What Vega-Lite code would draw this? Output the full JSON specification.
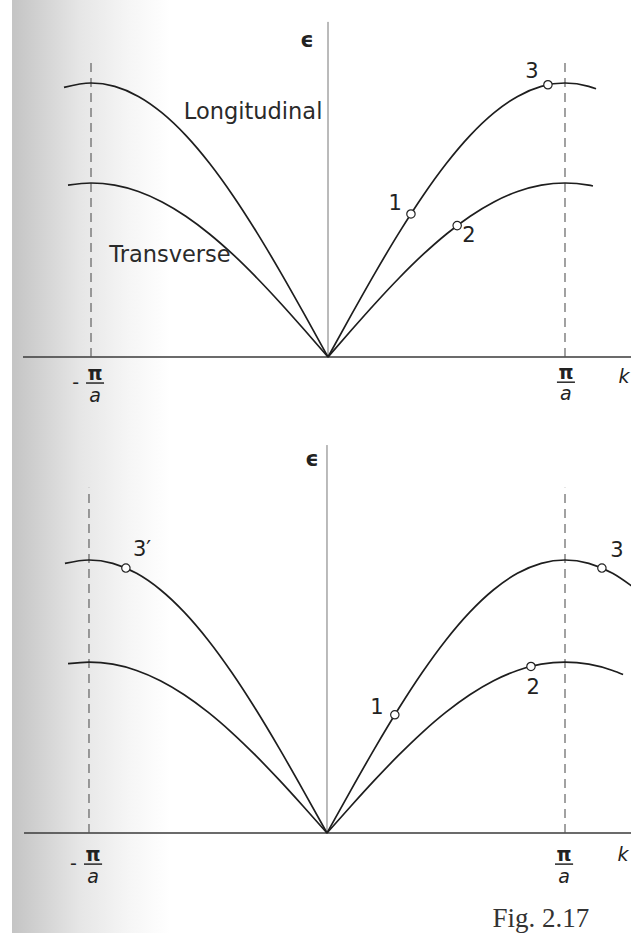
{
  "$schema": "https://vega.github.io/schema/vega-lite/v6.json",
  "padding": 0,
  "background": "white",
  "spacing": 0,
  "bounds": "flush",
  "config": {"view": {"stroke": null}, "concat": {"spacing": 0}},
  "datasets": {
    "shade": [
      {"panel": "top", "k": -1.3333, "k2": -0.6667, "e": -0.2299, "e2": 1.3029},
      {"panel": "bottom", "k": -1.3235, "k2": -0.6597, "e": -0.3663, "e2": 1.5128}
    ],
    "rules": [
      {"panel": "top", "kind": "haxis", "k": -1.287, "k2": 1.2785, "e": 0, "e2": 0},
      {"panel": "top", "kind": "vaxis", "k": 0, "k2": 0, "e": 0, "e2": 1.223},
      {"panel": "top", "kind": "dash", "k": -1, "k2": -1, "e": 0, "e2": 1.077},
      {"panel": "top", "kind": "dash", "k": 1, "k2": 1, "e": 0, "e2": 1.077},
      {"panel": "top", "kind": "bar", "k": -1.021, "k2": -0.945, "e": -0.095, "e2": -0.095},
      {"panel": "top", "kind": "bar", "k": 0.966, "k2": 1.042, "e": -0.092, "e2": -0.092},
      {"panel": "bottom", "kind": "haxis", "k": -1.273, "k2": 1.2773, "e": 0, "e2": 0},
      {"panel": "bottom", "kind": "vaxis", "k": 0, "k2": 0, "e": 0, "e2": 1.421},
      {"panel": "bottom", "kind": "dash", "k": -1, "k2": -1, "e": 0, "e2": 1.265},
      {"panel": "bottom", "kind": "dash", "k": 1, "k2": 1, "e": 0, "e2": 1.265},
      {"panel": "bottom", "kind": "bar", "k": -1.021, "k2": -0.945, "e": -0.114, "e2": -0.114},
      {"panel": "bottom", "kind": "bar", "k": 0.958, "k2": 1.034, "e": -0.114, "e2": -0.114}
    ],
    "curves": [
      {"panel": "top", "series": "L1", "k": -1.114, "e": 0.984},
      {"panel": "top", "series": "L1", "k": -1.0, "e": 1.0},
      {"panel": "top", "series": "L1", "k": -0.9, "e": 0.9877},
      {"panel": "top", "series": "L1", "k": -0.8, "e": 0.9511},
      {"panel": "top", "series": "L1", "k": -0.7, "e": 0.891},
      {"panel": "top", "series": "L1", "k": -0.6, "e": 0.809},
      {"panel": "top", "series": "L1", "k": -0.5, "e": 0.7071},
      {"panel": "top", "series": "L1", "k": -0.4, "e": 0.5878},
      {"panel": "top", "series": "L1", "k": -0.3, "e": 0.454},
      {"panel": "top", "series": "L1", "k": -0.2, "e": 0.309},
      {"panel": "top", "series": "L1", "k": -0.1, "e": 0.1564},
      {"panel": "top", "series": "L1", "k": 0, "e": 0},
      {"panel": "top", "series": "L2", "k": 0, "e": 0},
      {"panel": "top", "series": "L2", "k": 0.1, "e": 0.1564},
      {"panel": "top", "series": "L2", "k": 0.2, "e": 0.309},
      {"panel": "top", "series": "L2", "k": 0.3, "e": 0.454},
      {"panel": "top", "series": "L2", "k": 0.4, "e": 0.5878},
      {"panel": "top", "series": "L2", "k": 0.5, "e": 0.7071},
      {"panel": "top", "series": "L2", "k": 0.6, "e": 0.809},
      {"panel": "top", "series": "L2", "k": 0.7, "e": 0.891},
      {"panel": "top", "series": "L2", "k": 0.8, "e": 0.9511},
      {"panel": "top", "series": "L2", "k": 0.9, "e": 0.9877},
      {"panel": "top", "series": "L2", "k": 1.0, "e": 1.0},
      {"panel": "top", "series": "L2", "k": 1.1, "e": 0.9877},
      {"panel": "top", "series": "L2", "k": 1.131, "e": 0.9789},
      {"panel": "top", "series": "T1", "k": -1.097, "e": 0.6276},
      {"panel": "top", "series": "T1", "k": -1.0, "e": 0.635},
      {"panel": "top", "series": "T1", "k": -0.9, "e": 0.6272},
      {"panel": "top", "series": "T1", "k": -0.8, "e": 0.6039},
      {"panel": "top", "series": "T1", "k": -0.7, "e": 0.5658},
      {"panel": "top", "series": "T1", "k": -0.6, "e": 0.5137},
      {"panel": "top", "series": "T1", "k": -0.5, "e": 0.449},
      {"panel": "top", "series": "T1", "k": -0.4, "e": 0.3733},
      {"panel": "top", "series": "T1", "k": -0.3, "e": 0.2883},
      {"panel": "top", "series": "T1", "k": -0.2, "e": 0.1962},
      {"panel": "top", "series": "T1", "k": -0.1, "e": 0.0993},
      {"panel": "top", "series": "T1", "k": 0, "e": 0},
      {"panel": "top", "series": "T2", "k": 0, "e": 0},
      {"panel": "top", "series": "T2", "k": 0.1, "e": 0.0993},
      {"panel": "top", "series": "T2", "k": 0.2, "e": 0.1962},
      {"panel": "top", "series": "T2", "k": 0.3, "e": 0.2883},
      {"panel": "top", "series": "T2", "k": 0.4, "e": 0.3733},
      {"panel": "top", "series": "T2", "k": 0.5, "e": 0.449},
      {"panel": "top", "series": "T2", "k": 0.6, "e": 0.5137},
      {"panel": "top", "series": "T2", "k": 0.7, "e": 0.5658},
      {"panel": "top", "series": "T2", "k": 0.8, "e": 0.6039},
      {"panel": "top", "series": "T2", "k": 0.9, "e": 0.6272},
      {"panel": "top", "series": "T2", "k": 1.0, "e": 0.635},
      {"panel": "top", "series": "T2", "k": 1.1, "e": 0.6272},
      {"panel": "top", "series": "T2", "k": 1.118, "e": 0.6241},
      {"panel": "bottom", "series": "L1", "k": -1.101, "e": 0.9874},
      {"panel": "bottom", "series": "L1", "k": -1.0, "e": 1.0},
      {"panel": "bottom", "series": "L1", "k": -0.9, "e": 0.9877},
      {"panel": "bottom", "series": "L1", "k": -0.8, "e": 0.9511},
      {"panel": "bottom", "series": "L1", "k": -0.7, "e": 0.891},
      {"panel": "bottom", "series": "L1", "k": -0.6, "e": 0.809},
      {"panel": "bottom", "series": "L1", "k": -0.5, "e": 0.7071},
      {"panel": "bottom", "series": "L1", "k": -0.4, "e": 0.5878},
      {"panel": "bottom", "series": "L1", "k": -0.3, "e": 0.454},
      {"panel": "bottom", "series": "L1", "k": -0.2, "e": 0.309},
      {"panel": "bottom", "series": "L1", "k": -0.1, "e": 0.1564},
      {"panel": "bottom", "series": "L1", "k": 0, "e": 0},
      {"panel": "bottom", "series": "L2", "k": 0, "e": 0},
      {"panel": "bottom", "series": "L2", "k": 0.1, "e": 0.1564},
      {"panel": "bottom", "series": "L2", "k": 0.2, "e": 0.309},
      {"panel": "bottom", "series": "L2", "k": 0.3, "e": 0.454},
      {"panel": "bottom", "series": "L2", "k": 0.4, "e": 0.5878},
      {"panel": "bottom", "series": "L2", "k": 0.5, "e": 0.7071},
      {"panel": "bottom", "series": "L2", "k": 0.6, "e": 0.809},
      {"panel": "bottom", "series": "L2", "k": 0.7, "e": 0.891},
      {"panel": "bottom", "series": "L2", "k": 0.8, "e": 0.9511},
      {"panel": "bottom", "series": "L2", "k": 0.9, "e": 0.9877},
      {"panel": "bottom", "series": "L2", "k": 1.0, "e": 1.0},
      {"panel": "bottom", "series": "L2", "k": 1.1, "e": 0.9877},
      {"panel": "bottom", "series": "L2", "k": 1.2, "e": 0.9511},
      {"panel": "bottom", "series": "L2", "k": 1.28, "e": 0.9048},
      {"panel": "bottom", "series": "T1", "k": -1.088, "e": 0.6201},
      {"panel": "bottom", "series": "T1", "k": -1.0, "e": 0.626},
      {"panel": "bottom", "series": "T1", "k": -0.9, "e": 0.6183},
      {"panel": "bottom", "series": "T1", "k": -0.8, "e": 0.5954},
      {"panel": "bottom", "series": "T1", "k": -0.7, "e": 0.5578},
      {"panel": "bottom", "series": "T1", "k": -0.6, "e": 0.5064},
      {"panel": "bottom", "series": "T1", "k": -0.5, "e": 0.4426},
      {"panel": "bottom", "series": "T1", "k": -0.4, "e": 0.368},
      {"panel": "bottom", "series": "T1", "k": -0.3, "e": 0.2842},
      {"panel": "bottom", "series": "T1", "k": -0.2, "e": 0.1934},
      {"panel": "bottom", "series": "T1", "k": -0.1, "e": 0.0979},
      {"panel": "bottom", "series": "T1", "k": 0, "e": 0},
      {"panel": "bottom", "series": "T2", "k": 0, "e": 0},
      {"panel": "bottom", "series": "T2", "k": 0.1, "e": 0.0979},
      {"panel": "bottom", "series": "T2", "k": 0.2, "e": 0.1934},
      {"panel": "bottom", "series": "T2", "k": 0.3, "e": 0.2842},
      {"panel": "bottom", "series": "T2", "k": 0.4, "e": 0.368},
      {"panel": "bottom", "series": "T2", "k": 0.5, "e": 0.4426},
      {"panel": "bottom", "series": "T2", "k": 0.6, "e": 0.5064},
      {"panel": "bottom", "series": "T2", "k": 0.7, "e": 0.5578},
      {"panel": "bottom", "series": "T2", "k": 0.8, "e": 0.5954},
      {"panel": "bottom", "series": "T2", "k": 0.9, "e": 0.6183},
      {"panel": "bottom", "series": "T2", "k": 1.0, "e": 0.626},
      {"panel": "bottom", "series": "T2", "k": 1.1, "e": 0.6183},
      {"panel": "bottom", "series": "T2", "k": 1.2, "e": 0.5954},
      {"panel": "bottom", "series": "T2", "k": 1.244, "e": 0.5806}
    ],
    "points": [
      {"panel": "top", "label": "1", "k": 0.35, "e": 0.522},
      {"panel": "top", "label": "2", "k": 0.545, "e": 0.4795},
      {"panel": "top", "label": "3", "k": 0.928, "e": 0.9936},
      {"panel": "bottom", "label": "1", "k": 0.285, "e": 0.433},
      {"panel": "bottom", "label": "2", "k": 0.857, "e": 0.61},
      {"panel": "bottom", "label": "3", "k": 1.155, "e": 0.9705},
      {"panel": "bottom", "label": "3′", "k": -0.845, "e": 0.9705}
    ],
    "labels": [
      {"panel": "top", "role": "digit", "text": "1", "k": 0.283, "e": 0.557},
      {"panel": "top", "role": "digit", "text": "2", "k": 0.595, "e": 0.44},
      {"panel": "top", "role": "digit", "text": "3", "k": 0.861, "e": 1.04},
      {"panel": "top", "role": "name", "text": "Longitudinal", "k": -0.316, "e": 0.868},
      {"panel": "top", "role": "name", "text": "Transverse", "k": -0.667, "e": 0.348},
      {"panel": "top", "role": "epsilon", "text": "ϵ", "k": -0.0886, "e": 1.154},
      {"panel": "top", "role": "kaxis", "text": "k", "k": 1.249, "e": -0.0714},
      {"panel": "top", "role": "pi", "text": "π", "k": -0.983, "e": -0.062},
      {"panel": "top", "role": "pi", "text": "π", "k": 1.004, "e": -0.058},
      {"panel": "top", "role": "a", "text": "a", "k": -0.983, "e": -0.142},
      {"panel": "top", "role": "a", "text": "a", "k": 1.004, "e": -0.136},
      {"panel": "top", "role": "minus", "text": "-", "k": -1.065, "e": -0.095},
      {"panel": "bottom", "role": "digit", "text": "1", "k": 0.21, "e": 0.458},
      {"panel": "bottom", "role": "digit", "text": "2", "k": 0.866, "e": 0.531},
      {"panel": "bottom", "role": "digit", "text": "3", "k": 1.218, "e": 1.033},
      {"panel": "bottom", "role": "digit", "text": "3′", "k": -0.777, "e": 1.037},
      {"panel": "bottom", "role": "epsilon", "text": "ϵ", "k": -0.063, "e": 1.366},
      {"panel": "bottom", "role": "kaxis", "text": "k", "k": 1.244, "e": -0.079},
      {"panel": "bottom", "role": "pi", "text": "π", "k": -0.983, "e": -0.08},
      {"panel": "bottom", "role": "pi", "text": "π", "k": 0.996, "e": -0.08},
      {"panel": "bottom", "role": "a", "text": "a", "k": -0.983, "e": -0.162},
      {"panel": "bottom", "role": "a", "text": "a", "k": 0.996, "e": -0.162},
      {"panel": "bottom", "role": "minus", "text": "-", "k": -1.065, "e": -0.114},
      {"panel": "bottom", "role": "caption", "text": "Fig. 2.17", "k": 0.899, "e": -0.344}
    ]
  },
  "vconcat": [
    {
      "width": 631,
      "height": 420,
      "encoding": {
        "x": {"field": "k", "type": "quantitative", "scale": {"domain": [-1.384, 1.2785], "nice": false, "zero": false}, "axis": null},
        "y": {"field": "e", "type": "quantitative", "scale": {"domain": [-0.2299, 1.3029], "nice": false, "zero": false}, "axis": null}
      },
      "layer": [
        {"data": {"name": "shade"}, "transform": [{"filter": "datum.panel === 'top'"}],
         "mark": {"type": "rect", "fill": {"gradient": "linear", "x1": 0, "y1": 0, "x2": 1, "y2": 0, "stops": [{"offset": 0, "color": "#c4c4c4"}, {"offset": 0.18, "color": "#d2d2d2"}, {"offset": 0.43, "color": "#e6e6e6"}, {"offset": 0.75, "color": "#f6f6f6"}, {"offset": 1, "color": "#ffffff"}]}},
         "encoding": {"x2": {"field": "k2"}, "y2": {"field": "e2"}}},
        {"data": {"name": "rules"}, "transform": [{"filter": "datum.panel === 'top' && datum.kind === 'haxis'"}],
         "mark": {"type": "rule", "color": "#3a3a3a", "strokeWidth": 1.3},
         "encoding": {"x2": {"field": "k2"}, "y2": {"field": "e2"}}},
        {"data": {"name": "rules"}, "transform": [{"filter": "datum.panel === 'top' && datum.kind === 'vaxis'"}],
         "mark": {"type": "rule", "color": "#777777", "strokeWidth": 1},
         "encoding": {"x2": {"field": "k2"}, "y2": {"field": "e2"}}},
        {"data": {"name": "rules"}, "transform": [{"filter": "datum.panel === 'top' && datum.kind === 'dash'"}],
         "mark": {"type": "rule", "color": "#555555", "strokeWidth": 1.1, "strokeDash": [9, 6]},
         "encoding": {"x2": {"field": "k2"}, "y2": {"field": "e2"}}},
        {"data": {"name": "rules"}, "transform": [{"filter": "datum.panel === 'top' && datum.kind === 'bar'"}],
         "mark": {"type": "rule", "color": "#333333", "strokeWidth": 1.6},
         "encoding": {"x2": {"field": "k2"}, "y2": {"field": "e2"}}},
        {"data": {"name": "curves"}, "transform": [{"filter": "datum.panel === 'top'"}],
         "mark": {"type": "line", "interpolate": "monotone", "color": "#1e1e1e", "strokeWidth": 1.7, "clip": true},
         "encoding": {"detail": {"field": "series"}}},
        {"data": {"name": "points"}, "transform": [{"filter": "datum.panel === 'top'"}],
         "mark": {"type": "point", "shape": "circle", "filled": true, "fill": "white", "stroke": "#222222", "strokeWidth": 1.2, "size": 70, "opacity": 1}},
        {"data": {"name": "labels"}, "transform": [{"filter": "datum.panel === 'top' && datum.role === 'digit'"}],
         "mark": {"type": "text", "font": "DejaVu Sans", "fontSize": 21, "color": "#222222", "align": "center", "baseline": "middle"},
         "encoding": {"text": {"field": "text"}}},
        {"data": {"name": "labels"}, "transform": [{"filter": "datum.panel === 'top' && datum.role === 'name'"}],
         "mark": {"type": "text", "font": "DejaVu Sans", "fontSize": 22.5, "color": "#2a2a2a", "align": "center", "baseline": "alphabetic"},
         "encoding": {"text": {"field": "text"}}},
        {"data": {"name": "labels"}, "transform": [{"filter": "datum.panel === 'top' && datum.role === 'epsilon'"}],
         "mark": {"type": "text", "font": "DejaVu Sans", "fontSize": 21, "fontWeight": "bold", "color": "#222222", "align": "center", "baseline": "middle"},
         "encoding": {"text": {"field": "text"}}},
        {"data": {"name": "labels"}, "transform": [{"filter": "datum.panel === 'top' && datum.role === 'kaxis'"}],
         "mark": {"type": "text", "font": "DejaVu Sans", "fontSize": 19, "fontStyle": "italic", "color": "#222222", "align": "center", "baseline": "middle"},
         "encoding": {"text": {"field": "text"}}},
        {"data": {"name": "labels"}, "transform": [{"filter": "datum.panel === 'top' && datum.role === 'pi'"}],
         "mark": {"type": "text", "font": "DejaVu Sans", "fontSize": 19, "fontWeight": "bold", "color": "#222222", "align": "center", "baseline": "middle"},
         "encoding": {"text": {"field": "text"}}},
        {"data": {"name": "labels"}, "transform": [{"filter": "datum.panel === 'top' && datum.role === 'a'"}],
         "mark": {"type": "text", "font": "DejaVu Sans", "fontSize": 19, "fontStyle": "italic", "color": "#222222", "align": "center", "baseline": "middle"},
         "encoding": {"text": {"field": "text"}}},
        {"data": {"name": "labels"}, "transform": [{"filter": "datum.panel === 'top' && datum.role === 'minus'"}],
         "mark": {"type": "text", "font": "DejaVu Sans", "fontSize": 19, "color": "#222222", "align": "center", "baseline": "middle"},
         "encoding": {"text": {"field": "text"}}}
      ]
    },
    {
      "width": 631,
      "height": 513,
      "encoding": {
        "x": {"field": "k", "type": "quantitative", "scale": {"domain": [-1.3739, 1.2773], "nice": false, "zero": false}, "axis": null},
        "y": {"field": "e", "type": "quantitative", "scale": {"domain": [-0.3663, 1.5128], "nice": false, "zero": false}, "axis": null}
      },
      "layer": [
        {"data": {"name": "shade"}, "transform": [{"filter": "datum.panel === 'bottom'"}],
         "mark": {"type": "rect", "fill": {"gradient": "linear", "x1": 0, "y1": 0, "x2": 1, "y2": 0, "stops": [{"offset": 0, "color": "#c4c4c4"}, {"offset": 0.18, "color": "#d2d2d2"}, {"offset": 0.43, "color": "#e6e6e6"}, {"offset": 0.75, "color": "#f6f6f6"}, {"offset": 1, "color": "#ffffff"}]}},
         "encoding": {"x2": {"field": "k2"}, "y2": {"field": "e2"}}},
        {"data": {"name": "rules"}, "transform": [{"filter": "datum.panel === 'bottom' && datum.kind === 'haxis'"}],
         "mark": {"type": "rule", "color": "#3a3a3a", "strokeWidth": 1.3},
         "encoding": {"x2": {"field": "k2"}, "y2": {"field": "e2"}}},
        {"data": {"name": "rules"}, "transform": [{"filter": "datum.panel === 'bottom' && datum.kind === 'vaxis'"}],
         "mark": {"type": "rule", "color": "#777777", "strokeWidth": 1},
         "encoding": {"x2": {"field": "k2"}, "y2": {"field": "e2"}}},
        {"data": {"name": "rules"}, "transform": [{"filter": "datum.panel === 'bottom' && datum.kind === 'dash'"}],
         "mark": {"type": "rule", "color": "#555555", "strokeWidth": 1.1, "strokeDash": [9, 6]},
         "encoding": {"x2": {"field": "k2"}, "y2": {"field": "e2"}}},
        {"data": {"name": "rules"}, "transform": [{"filter": "datum.panel === 'bottom' && datum.kind === 'bar'"}],
         "mark": {"type": "rule", "color": "#333333", "strokeWidth": 1.6},
         "encoding": {"x2": {"field": "k2"}, "y2": {"field": "e2"}}},
        {"data": {"name": "curves"}, "transform": [{"filter": "datum.panel === 'bottom'"}],
         "mark": {"type": "line", "interpolate": "monotone", "color": "#1e1e1e", "strokeWidth": 1.7, "clip": true},
         "encoding": {"detail": {"field": "series"}}},
        {"data": {"name": "points"}, "transform": [{"filter": "datum.panel === 'bottom'"}],
         "mark": {"type": "point", "shape": "circle", "filled": true, "fill": "white", "stroke": "#222222", "strokeWidth": 1.2, "size": 70, "opacity": 1}},
        {"data": {"name": "labels"}, "transform": [{"filter": "datum.panel === 'bottom' && datum.role === 'digit'"}],
         "mark": {"type": "text", "font": "DejaVu Sans", "fontSize": 21, "color": "#222222", "align": "center", "baseline": "middle"},
         "encoding": {"text": {"field": "text"}}},
        {"data": {"name": "labels"}, "transform": [{"filter": "datum.panel === 'bottom' && datum.role === 'epsilon'"}],
         "mark": {"type": "text", "font": "DejaVu Sans", "fontSize": 21, "fontWeight": "bold", "color": "#222222", "align": "center", "baseline": "middle"},
         "encoding": {"text": {"field": "text"}}},
        {"data": {"name": "labels"}, "transform": [{"filter": "datum.panel === 'bottom' && datum.role === 'kaxis'"}],
         "mark": {"type": "text", "font": "DejaVu Sans", "fontSize": 19, "fontStyle": "italic", "color": "#222222", "align": "center", "baseline": "middle"},
         "encoding": {"text": {"field": "text"}}},
        {"data": {"name": "labels"}, "transform": [{"filter": "datum.panel === 'bottom' && datum.role === 'pi'"}],
         "mark": {"type": "text", "font": "DejaVu Sans", "fontSize": 19, "fontWeight": "bold", "color": "#222222", "align": "center", "baseline": "middle"},
         "encoding": {"text": {"field": "text"}}},
        {"data": {"name": "labels"}, "transform": [{"filter": "datum.panel === 'bottom' && datum.role === 'a'"}],
         "mark": {"type": "text", "font": "DejaVu Sans", "fontSize": 19, "fontStyle": "italic", "color": "#222222", "align": "center", "baseline": "middle"},
         "encoding": {"text": {"field": "text"}}},
        {"data": {"name": "labels"}, "transform": [{"filter": "datum.panel === 'bottom' && datum.role === 'minus'"}],
         "mark": {"type": "text", "font": "DejaVu Sans", "fontSize": 19, "color": "#222222", "align": "center", "baseline": "middle"},
         "encoding": {"text": {"field": "text"}}},
        {"data": {"name": "labels"}, "transform": [{"filter": "datum.panel === 'bottom' && datum.role === 'caption'"}],
         "mark": {"type": "text", "font": "Liberation Serif", "fontSize": 27, "color": "#333333", "align": "center", "baseline": "alphabetic"},
         "encoding": {"text": {"field": "text"}}}
      ]
    }
  ]
}
